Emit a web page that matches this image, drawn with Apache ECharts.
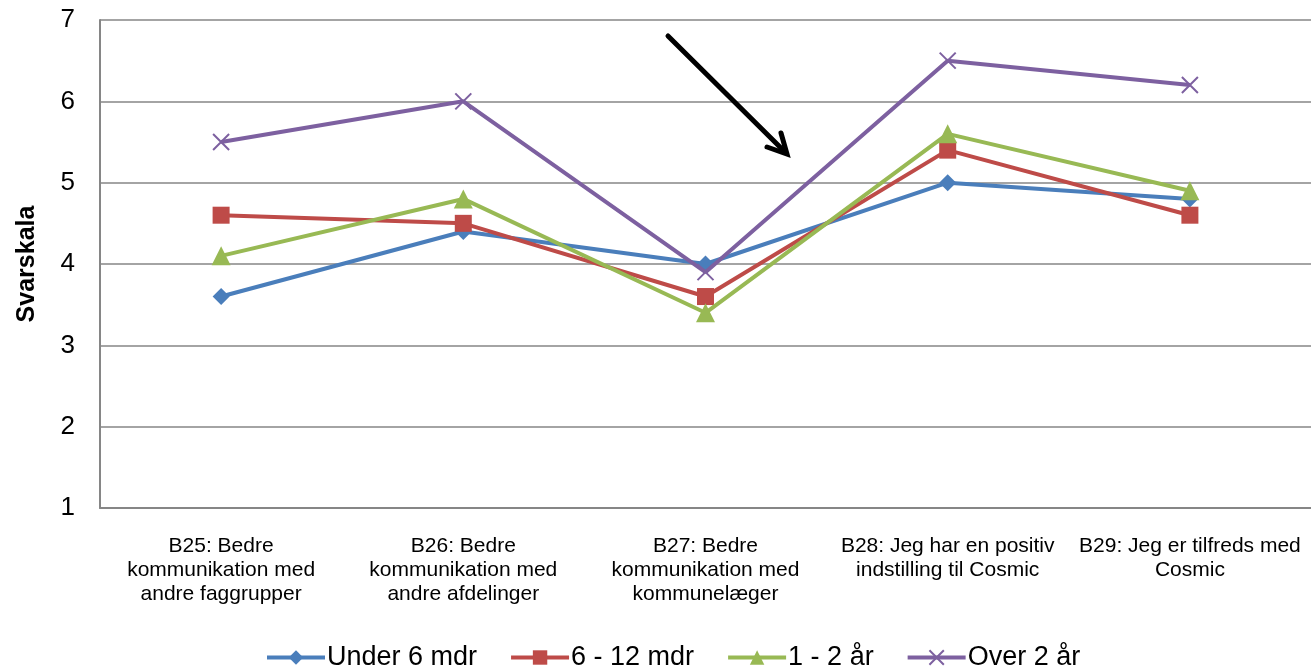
<!DOCTYPE html>
<html><head><meta charset="utf-8">
<script src="https://cdn.jsdelivr.net/npm/echarts@6/dist/echarts.min.js"></script>
<style>html,body{margin:0;padding:0;background:#fff}#c{width:1311px;height:670px}</style>
</head><body><div id="c"></div>
<script>
const categories = [
  "B25: Bedre\nkommunikation med\nandre faggrupper",
  "B26: Bedre\nkommunikation med\nandre afdelinger",
  "B27: Bedre\nkommunikation med\nkommunelæger",
  "B28: Jeg har en positiv\nindstilling til Cosmic",
  "B29: Jeg er tilfreds med\nCosmic"
];
const under6 = [3.6, 4.4, 4.0, 5.0, 4.8];
const m6to12 = [4.6, 4.5, 3.6, 5.4, 4.6];
const y1to2 = [4.1, 4.8, 3.4, 5.6, 4.9];
const over2 = [5.5, 6.0, 3.9, 6.5, 6.2];
const seriesNames = ["Under 6 mdr", "6 - 12 mdr", "1 - 2 år", "Over 2 år"];
const yTicks = [1, 2, 3, 4, 5, 6, 7];

const colors = ["#4A7EBB", "#BE4B48", "#98B954", "#7D60A0"];
const xPath = "path://M0,0L10,10M10,0L0,10";
const chart = echarts.init(document.getElementById('c'));
function mk(i, data, symbol, size) {
  return {
    name: seriesNames[i], type: 'line', data: data, symbol: symbol, symbolSize: size,
    lineStyle: { color: colors[i], width: 4 },
    itemStyle: { color: i === 3 ? 'rgba(0,0,0,0)' : colors[i], borderColor: colors[i], borderWidth: i === 3 ? 2 : 0 },
    emphasis: { disabled: true }, animation: false, z: 2 + i
  };
}
chart.setOption({
  animation: false,
  grid: { left: 100, right: 0, top: 20, bottom: 162, containLabel: false },
  legend: {
    bottom: -6, left: 260, itemWidth: 58, itemHeight: 18, itemGap: 32,
    lineStyle: { width: 4 },
    textStyle: { fontFamily: 'Liberation Sans, Arial', fontSize: 27, color: '#000', padding: [0, 0, 0, -3] },
    data: seriesNames
  },
  xAxis: {
    type: 'category', data: categories, boundaryGap: true,
    axisLine: { lineStyle: { color: '#868686', width: 2 } },
    axisTick: { show: false },
    axisLabel: { fontFamily: 'Liberation Sans, Arial', fontSize: 21, color: '#000', lineHeight: 24, margin: 26, interval: 0, align: 'center' }
  },
  yAxis: {
    type: 'value', min: yTicks[0], max: yTicks[yTicks.length - 1], interval: 1,
    name: 'Svarskala', nameLocation: 'middle', nameGap: 60, nameRotate: 90,
    nameTextStyle: { fontFamily: 'Liberation Sans, Arial', fontSize: 25, fontWeight: 'bold', color: '#000' },
    axisLine: { show: true, lineStyle: { color: '#868686', width: 2 } },
    axisTick: { show: false },
    splitLine: { lineStyle: { color: '#868686', width: 1.5 } },
    axisLabel: { fontFamily: 'Liberation Sans, Arial', fontSize: 26, color: '#000', margin: 25 }
  },
  series: [
    mk(0, under6, 'diamond', 17),
    mk(1, m6to12, 'rect', 17),
    mk(2, y1to2, 'triangle', 19),
    mk(3, over2, xPath, 16)
  ],
  graphic: [
    { type: 'line', shape: { x1: 668, y1: 36, x2: 785, y2: 152 }, style: { stroke: '#000', lineWidth: 5, lineCap: 'round' }, z: 100 },
    { type: 'polyline', shape: { points: [[767, 147], [787, 154], [781, 133]] }, style: { stroke: '#000', lineWidth: 5, fill: null, lineCap: 'round', lineJoin: 'miter' }, z: 100 }
  ]
});
</script></body></html>
